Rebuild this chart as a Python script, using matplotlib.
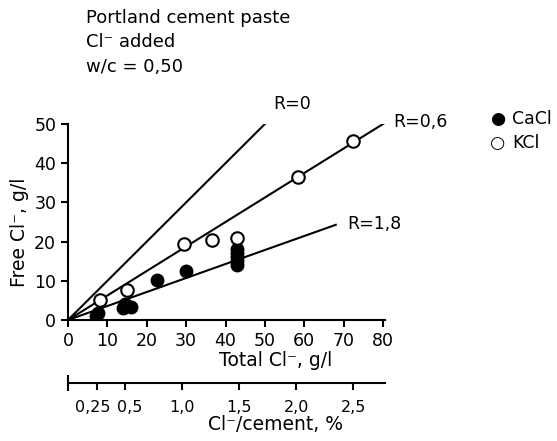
import matplotlib.pyplot as plt
import matplotlib.transforms as mtransforms
import numpy as np

# data
cacl2_total = [7.5, 7.0, 14.0, 14.5, 16.0, 22.5, 30.0, 43.0, 43.0, 43.0, 43.0, 43.0]
cacl2_free = [1.8, 1.0, 3.0, 4.2, 3.3, 10.3, 12.5, 18.0, 17.0, 16.0, 15.0, 14.0]
kcl_total = [8.0, 15.0, 29.5, 36.5, 43.0, 58.5, 72.5]
kcl_free = [5.0, 7.7, 19.5, 20.3, 20.8, 36.4, 45.6]

r_values = [0, 0.6, 1.8]
r_labels = ["R=0", "R=0,6", "R=1,8"]
r_xend = [51.0, 80.5, 68.0]

pct_ticks = [0.25, 0.5, 1.0, 1.5, 2.0, 2.5]
pct_labels = ["0,25", "0,5", "1,0", "1,5", "2,0", "2,5"]
gl_per_pct = 29.0

plt.rcParams['font.family'] = 'DejaVu Sans'
fs = 12.5
lfs = 13.5

fig = plt.figure(figsize=(5.57, 4.41), dpi=100)
ax = fig.add_axes([68/557, 121/441, 317/557, 196/441])

for r, xe in zip(r_values, r_xend):
    xs = np.array([0, xe])
    ax.plot(xs, xs/(1+r), color='black', lw=1.5, zorder=1)

ax.plot(cacl2_total, cacl2_free, 'o', ms=9, mfc='black', mec='black', zorder=3)
ax.plot(kcl_total, kcl_free, 'o', ms=9, mfc='white', mec='black', mew=1.5, zorder=3)

ax.text(52, 55, r_labels[0], fontsize=fs, va='center')
ax.text(82.5, 50.5, r_labels[1], fontsize=fs, va='center', clip_on=False)
ax.text(71, 24.6, r_labels[2], fontsize=fs, va='center')

ax.set_xlim(0, 80.5)
ax.set_ylim(0, 50)
ax.set_xticks(range(0, 81, 10))
ax.set_yticks(range(0, 51, 10))
ax.spines['top'].set_visible(False)
ax.spines['right'].set_visible(False)
ax.spines['left'].set_linewidth(1.5)
ax.spines['bottom'].set_linewidth(1.5)
ax.tick_params(labelsize=fs, width=1.5, length=5, direction='out')
fig.text(276/557, 1-360/441, "Total Cl⁻, g/l", fontsize=lfs, ha='center', va='center')
fig.text(20/557, 1-232/441, "Free Cl⁻, g/l", fontsize=lfs, rotation=90,
         ha='center', va='center')

# second scale: Cl-/cement
ax2 = fig.add_axes([68/557, 58/441, 317/557, 0.001])
ax2.set_xlim(0, 80.5/gl_per_pct)
ax2.set_ylim(0, 1)
for s in ['top', 'right', 'left']:
    ax2.spines[s].set_visible(False)
ax2.spines['bottom'].set_linewidth(1.5)
ax2.set_yticks([])
ax2.set_xticks(pct_ticks)
ax2.set_xticklabels(pct_labels)
ax2.set_xticks([0], minor=True)
ax2.tick_params(labelsize=11.5, width=1.5, length=5, direction='out', pad=7)
ax2.tick_params(which='minor', width=1.5, length=12, direction='inout')
labs = ax2.get_xticklabels()
labs[0].set_transform(labs[0].get_transform() +
                      mtransforms.ScaledTranslation(-4/100, 0, fig.dpi_scale_trans))
labs[1].set_transform(labs[1].get_transform() +
                      mtransforms.ScaledTranslation(5/100, 0, fig.dpi_scale_trans))
fig.text(276/557, 1-425/441, "Cl⁻/cement, %", fontsize=lfs, ha='center', va='center')

# legend
fig.text(498/557, 1-119/441, "●", fontsize=fs, ha='center', va='center')
fig.text(512/557, 1-119/441, "CaCl", fontsize=fs, va='center')
fig.text(498/557, 1-143/441, "○", fontsize=fs, ha='center', va='center')
fig.text(512/557, 1-143/441, "KCl", fontsize=fs, va='center')

# header
fig.text(86/557, 1-18/441, "Portland cement paste", fontsize=13, va='center')
fig.text(86/557, 1-42/441, "Cl⁻ added", fontsize=13, va='center')
fig.text(86/557, 1-67/441, "w/c = 0,50", fontsize=13, va='center')

fig.savefig("out.png", dpi=100)
